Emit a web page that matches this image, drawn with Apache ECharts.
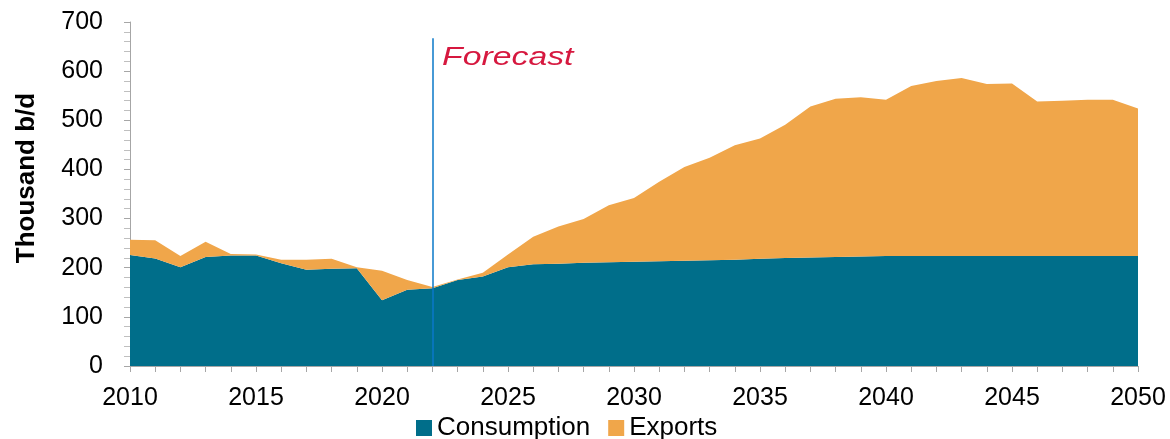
<!DOCTYPE html>
<html>
<head>
<meta charset="utf-8">
<script src="https://cdn.jsdelivr.net/npm/echarts@6/dist/echarts.min.js"></script>
<style>
  html, body { margin: 0; padding: 0; background: #fff; }
  #chart { width: 1170px; height: 439px; }
</style>
</head>
<body>
<div id="chart"></div>
<script>
// years 2010..2050
const years = [];
for (let y = 2010; y <= 2050; y++) years.push(String(y));

// Thousand b/d
const consumption = [
  226, 219, 201, 222, 225, 225, 209, 196, 198, 199,
  134, 155, 158, 175, 182, 201, 207, 208, 210, 211,
  212, 213, 214, 215, 216, 218, 220, 221, 222, 223,
  224, 224, 224, 224, 224, 224, 224, 224, 224, 224,
  224
];
// total (consumption + exports) top edge
const total = [
  257, 256, 224, 253, 228, 227, 216, 216, 218, 201,
  194, 175, 161, 176, 190, 227, 263, 284, 299, 327,
  342, 375, 405, 424, 449, 463, 491, 528, 544, 547,
  542, 570, 580, 586, 574, 575, 538, 540, 542, 542,
  524
];
const exportsVol = total.map((t, i) => Math.max(0, t - consumption[i]));

// forecast divider, from the axis up to just under the top
const forecastYear = '2022';
const forecastSpan = [0, 667];

const font = 'Liberation Sans, Arial, sans-serif';
const axisGray = '#A6A6A6';

const chart = echarts.init(document.getElementById('chart'), null, { renderer: 'canvas' });

chart.setOption({
  animation: false,
  textStyle: { fontFamily: font },
  grid: { left: 130, right: 32, top: 22, bottom: 73, containLabel: false },
  legend: {
    top: 415,
    left: 416,
    itemWidth: 16,
    itemHeight: 16,
    itemGap: 18,
    icon: 'rect',
    padding: 0,
    textStyle: { fontSize: 26, color: '#000', fontFamily: font },
    data: ['Consumption', 'Exports']
  },
  xAxis: {
    type: 'category',
    data: years,
    boundaryGap: false,
    axisLine: { lineStyle: { color: axisGray, width: 1 } },
    axisTick: { show: true, interval: 0, length: 6, lineStyle: { color: axisGray } },
    axisLabel: { interval: 4, color: '#000', fontSize: 25, margin: 20, fontFamily: font },
    splitLine: { show: false }
  },
  yAxis: {
    type: 'value',
    min: 0,
    max: 700,
    interval: 100,
    name: 'Thousand b/d',
    nameLocation: 'middle',
    nameGap: 90,
    nameTextStyle: { fontSize: 26, fontWeight: 'bold', color: '#000', fontFamily: font, padding: [0, 0, 0, 32] },
    axisLine: { show: true, lineStyle: { color: axisGray, width: 1 } },
    axisTick: { show: true, length: 6, lineStyle: { color: axisGray } },
    minorTick: { show: true, splitNumber: 5, length: 6, lineStyle: { color: '#BFBFBF' } },
    axisLabel: { color: '#000', fontSize: 25, margin: 27, fontFamily: font },
    splitLine: { show: false }
  },
  graphic: [
    {
      type: 'text',
      left: 442,
      top: 45,
      scaleX: 1.3,
      style: {
        text: 'Forecast',
        fill: '#D6183F',
        font: 'italic 26px Liberation Sans, Arial, sans-serif'
      }
    }
  ],
  series: [
    {
      name: 'Consumption',
      type: 'line',
      stack: 'total',
      data: consumption,
      showSymbol: false,
      symbol: 'none',
      lineStyle: { width: 0, color: '#006E8A' },
      itemStyle: { color: '#006E8A' },
      areaStyle: { color: '#006E8A', opacity: 1 },
      z: 2
    },
    {
      name: 'Exports',
      type: 'line',
      stack: 'total',
      data: exportsVol,
      showSymbol: false,
      symbol: 'none',
      lineStyle: { width: 0, color: '#F0A64A' },
      itemStyle: { color: '#F0A64A' },
      areaStyle: { color: '#F0A64A', opacity: 1 },
      z: 2,
      markLine: {
        silent: true,
        symbol: ['none', 'none'],
        label: { show: false },
        lineStyle: { color: '#0A78C8', width: 1.5, type: 'solid' },
        data: [[
          { coord: [forecastYear, forecastSpan[0]] },
          { coord: [forecastYear, forecastSpan[1]] }
        ]],
        z: 5
      }
    }
  ]
});
</script>
</body>
</html>
